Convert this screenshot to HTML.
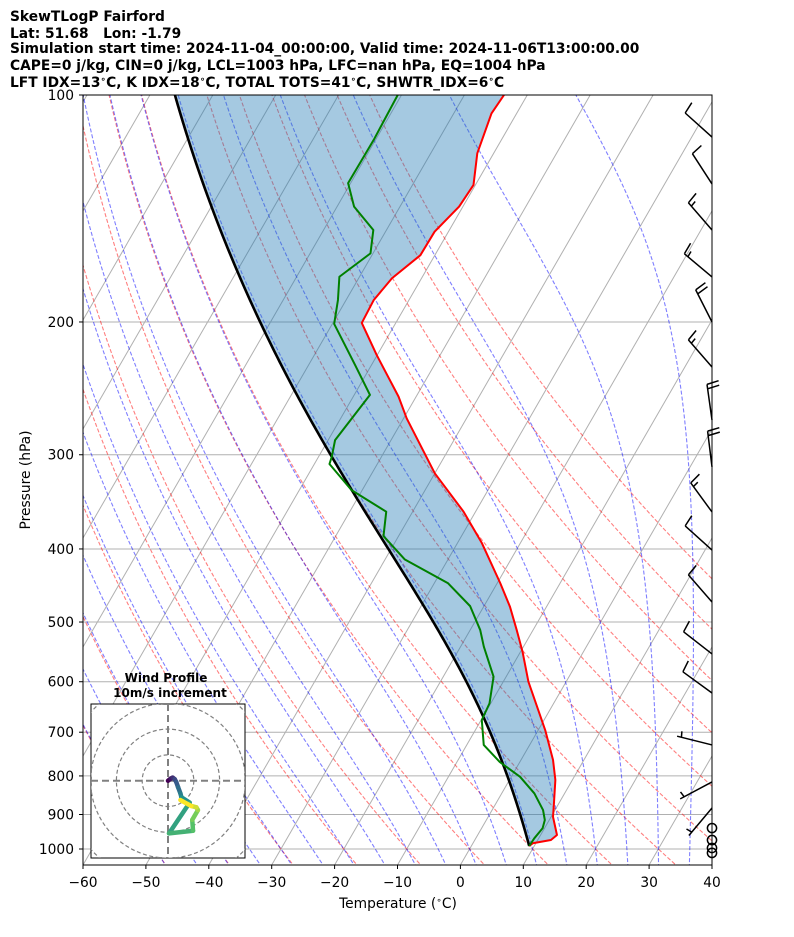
<!DOCTYPE html>
<html><head><meta charset="utf-8"><title>SkewT</title>
<style>
html,body{margin:0;padding:0;background:#fff;}
svg{display:block;font-family:"DejaVu Sans","Liberation Sans",sans-serif;}
.t{font-weight:bold;font-size:13.8px;fill:#000;}
.tick{font-size:13.8px;fill:#000;}
</style></head>
<body>
<svg id="chart" width="794" height="937" viewBox="0 0 794 937" xmlns="http://www.w3.org/2000/svg">
<rect x="0" y="0" width="794" height="937" fill="#fff"/>
<g>
<text class="t" x="10" y="21">SkewTLogP Fairford</text>
<text class="t" x="10" y="38">Lat: 51.68&#160;&#160;&#160;Lon: -1.79</text>
<text class="t" x="10" y="53">Simulation start time: 2024-11-04_00:00:00, Valid time: 2024-11-06T13:00:00.00</text>
<text class="t" x="10" y="70">CAPE=0 j/kg, CIN=0 j/kg, LCL=1003 hPa, LFC=nan hPa, EQ=1004 hPa</text>
<text class="t" x="10" y="87">LFT IDX=13<tspan font-size="9" dy="-5">∘</tspan><tspan dy="5">C, K IDX=18</tspan><tspan font-size="9" dy="-5">∘</tspan><tspan dy="5">C, TOTAL TOTS=41</tspan><tspan font-size="9" dy="-5">∘</tspan><tspan dy="5">C, SHWTR_IDX=6</tspan><tspan font-size="9" dy="-5">∘</tspan><tspan dy="5">C</tspan></text>
</g>
<defs>
<clipPath id="axclip"><rect x="83" y="95" width="629" height="770"/></clipPath>
<clipPath id="hodoclip"><rect x="91" y="704" width="154" height="154"/></clipPath>
</defs>
<g id="plot" clip-path="url(#axclip)"></g>
<rect x="83" y="95" width="629" height="770" fill="none" stroke="#000" stroke-width="1"/>
<g id="axes"></g>
<g id="barbs"></g>
<text x="30" y="480" transform="rotate(-90 30 480)" text-anchor="middle" font-size="13.8">Pressure (hPa)</text>
<text x="398" y="908" text-anchor="middle" font-size="13.8">Temperature (<tspan font-size="9" dy="-5">∘</tspan><tspan dy="5">C)</tspan></text>
<g id="hodo">
<text x="166" y="682" text-anchor="middle" font-size="12" font-weight="bold">Wind Profile</text>
<text x="170" y="697" text-anchor="middle" font-size="12" font-weight="bold">10m/s increment</text>
<rect x="91" y="704" width="154" height="154" fill="#fff" stroke="#000" stroke-width="1"/>
<g id="hodoInner" clip-path="url(#hodoclip)"></g>
</g>
</svg>
<script>
// ---- data ----
const tempP = [100,105.8,119.5,131.6,140.6,151.8,163.1,175,187,200.6,221.2,251.2,268.5,317.5,357,393,444.2,477.3,512.4,547.3,600,695.4,762.1,810,879.1,906.3,958.1,972.9,982.7,990.9];
const tempT = [-63.7,-64.0,-62.6,-60.3,-60.6,-62.2,-62.3,-64.7,-65.6,-65.4,-60.1,-52.8,-49.5,-40.0,-31.9,-26.1,-19.5,-15.8,-12.6,-9.7,-6.0,1.1,5.1,7.3,9.5,10.3,12.6,12.1,9.5,9.2];
const dewP = [100,114.7,130.9,140.6,151,162.2,174.2,187,201.2,228.1,249.9,286.9,301.8,308.6,334.2,357,384.6,412.9,444.2,476.3,512.4,539.1,590.9,641,674.4,727.8,766.6,802.2,843.9,887.9,915.4,938.7,967.9,990.9];
const dewT = [-80.6,-80.3,-80.4,-77.3,-72.1,-70.4,-73.2,-71.3,-69.7,-62.6,-57.5,-58.9,-57.9,-57.6,-51.7,-44.2,-42.4,-36.9,-27.8,-22.2,-18.4,-16.3,-12,-10.2,-9.9,-7.3,-3.2,1.4,5.2,8.1,9.3,9.7,9.3,9.2];
const parcelStartP = 990.9;
const parcelStartT = 9.2;
const xTicks = [-60,-50,-40,-30,-20,-10,0,10,20,30,40];
const pTicks = [100,200,300,400,500,600,700,800,900,1000];
const dryT0 = [-50,-40,-30,-20,-10,0,10,20,30,40,50,60,70,80,90];
const moistT0 = [-50,-45,-40,-35,-30,-25,-20,-15,-10,-5,0,5,10,15,20,25,30,35,40];
const isoT = [-130,-120,-110,-100,-90,-80,-70,-60,-50,-40,-30,-20,-10,0,10,20,30,40];
const barbP = [113.7,131.2,151,174.3,200,229.5,269.8,311.3,357.3,401.3,470.4,551.2,621,727.8,814.9,882.2];
const barbDir = [312,327,319,310,333,319,352,353,324,312,319,308,306,284,242,220];
const barbSpd = [10,10,15,15,20,15,20,20,15,10,10,10,10,5,5,5];
const calmP = [938,973,997,1012];
const hodoU = [0,1.0,1.8,2.6,3.2,3.9,4.8,5.2,8.4,0.4,9.7,9.4,11.6,11,9,4.8];
const hodoV = [0,0.8,1.2,0.6,-0.5,-2.5,-4.9,-6.4,-8.5,-20.4,-19.4,-15.2,-11.4,-10.3,-9.8,-7.5];

// ---- scales ----
const NS="http://www.w3.org/2000/svg";
const SK=0.577;
function xT(T){return 83+(T+60)*6.29;}
function yP(p){return 849+754*Math.log10(p/1000);}
function px(T,p){return xT(T)+SK*(865-yP(p));}
function mk(tag,attrs,parent){const e=document.createElementNS(NS,tag);for(const k in attrs)e.setAttribute(k,attrs[k]);parent.appendChild(e);return e;}
function pts(Ts,Ps){return Ts.map((T,i)=>px(T,Ps[i]).toFixed(2)+","+yP(Ps[i]).toFixed(2)).join(" ");}
const plot=document.getElementById('plot');
const axes=document.getElementById('axes');

const levels=[];for(let p=1060;p>=99;p-=5)levels.push(p);

function dTdp(p,T){
  const es=6.112*Math.exp(17.67*(T-273.15)/(T-29.65));
  const rs=0.622*es/(p-es);
  const Rd=287.04,Cp=1005.7,Lv=2.501e6,eps=0.622;
  return (Rd*T+Lv*rs)/(Cp+Lv*Lv*rs*eps/(Rd*T*T))/p;
}
function moist(T0C,p0,pEnd){
  let T=T0C+273.15,p=p0;const out=[[T0C,p0]];
  const dir=pEnd<p0?-1:1;const h=dir*1;
  while(dir<0?p>pEnd:p<pEnd){
    const k1=dTdp(p,T),k2=dTdp(p+h/2,T+h/2*k1),k3=dTdp(p+h/2,T+h/2*k2),k4=dTdp(p+h,T+h*k3);
    T+=h/6*(k1+2*k2+2*k3+k4);p+=h;
    out.push([T-273.15,p]);
  }
  return out;
}

for(const p of pTicks){
  const y=yP(p);
  const l=mk('line',{x1:83,x2:712,y1:y,y2:y,stroke:'#b0b0b0','stroke-width':1},plot);
  
  
}
for(const T of isoT){
  const l=mk('line',{x1:px(T,1060),y1:yP(1060),x2:px(T,99),y2:yP(99),stroke:'#b0b0b0','stroke-width':1},plot);
  
  
}
for(const t0 of dryT0){
  const Ts=levels.map(p=>(t0+273.15)*Math.pow(p/1000,0.2857)-273.15);
  const l=mk('polyline',{points:pts(Ts,levels),fill:'none',stroke:'red','stroke-opacity':0.5,'stroke-width':1.1,'stroke-dasharray':'4,2'},plot);
  
  
}
for(const t0 of moistT0){
  const up=moist(t0,1000,99),dn=moist(t0,1000,1060);
  const all=dn.reverse().concat(up.slice(1));
  const s=all.filter((d,i)=>i%3===0).map(d=>px(d[0],d[1]).toFixed(2)+","+yP(d[1]).toFixed(2)).join(" ");
  const l=mk('polyline',{points:s,fill:'none',stroke:'blue','stroke-opacity':0.5,'stroke-width':1.1,'stroke-dasharray':'4,2'},plot);
  
  
}
// parcel (surface -> top)
const parcel=moist(parcelStartT,parcelStartP,100).filter((d,i,a)=>i%3===0||i===a.length-1);
const parcelPts=parcel.map(d=>px(d[0],d[1]).toFixed(2)+","+yP(d[1]).toFixed(2));
// temperature (top -> surface) then parcel (surface -> top)
const tempPts=tempT.map((T,i)=>px(T,tempP[i]).toFixed(2)+","+yP(tempP[i]).toFixed(2));
const fillPoly=mk('polygon',{points:tempPts.join(" ")+" "+parcelPts.join(" "),fill:'#1f77b4','fill-opacity':0.4,stroke:'none'},plot);


const parcelLine=mk('polyline',{points:parcelPts.join(" "),fill:'none',stroke:'#000','stroke-width':2.6},plot);


const tLine=mk('polyline',{points:pts(tempT,tempP),fill:'none',stroke:'red','stroke-width':2,'stroke-linejoin':'round'},plot);


const dLine=mk('polyline',{points:pts(dewT,dewP),fill:'none',stroke:'green','stroke-width':2,'stroke-linejoin':'round'},plot);



for(const T of xTicks){
  const x=xT(T);
  const tk=mk('line',{x1:x,x2:x,y1:865,y2:869,stroke:'#000','stroke-width':1},axes);
  
  
  const tx=mk('text',{x:x,y:887,'text-anchor':'middle',class:'tick'},axes);
  tx.textContent=(T<0?'\u2212'+(-T):String(T));
  
  
}
for(const p of pTicks){
  const y=yP(p);
  const tk=mk('line',{x1:79,x2:83,y1:y,y2:y,stroke:'#000','stroke-width':1},axes);
  
  
  const tx=mk('text',{x:74,y:y+5,'text-anchor':'end',class:'tick'},axes);
  tx.textContent=String(p);
  
  
}

const bg=document.getElementById('barbs');
barbP.forEach((p,i)=>{
  const bx=712,by=yP(p),L=36;
  const a=barbDir[i]*Math.PI/180;
  const ux=Math.sin(a),uy=-Math.cos(a);
  const tx=bx+ux*L,ty=by+uy*L;
  const nx=-uy,ny=ux;
  let d=`M${bx},${by}L${tx.toFixed(1)},${ty.toFixed(1)}`;
  let s=barbSpd[i],off=0;
  while(s>=10){
    const sx=tx-ux*off,sy=ty-uy*off;
    d+=`M${sx.toFixed(1)},${sy.toFixed(1)}L${(sx+nx*12+ux*2).toFixed(1)},${(sy+ny*12+uy*2).toFixed(1)}`;
    s-=10;off+=4.5;
  }
  if(s>=5){
    if(off===0)off=4.5;
    const sx=tx-ux*off,sy=ty-uy*off;
    d+=`M${sx.toFixed(1)},${sy.toFixed(1)}L${(sx+nx*6+ux*1).toFixed(1)},${(sy+ny*6+uy*1).toFixed(1)}`;
  }
  const b=mk('path',{d:d,fill:'none',stroke:'#000','stroke-width':1.5},bg);
  
  
});
calmP.forEach(p=>{
  const c=mk('circle',{cx:712,cy:yP(p),r:4.6,fill:'none',stroke:'#000','stroke-width':1.5},bg);
  
  
});

const hi=document.getElementById('hodoInner');
const hcx=168,hcy=780.7,hs=2.58;
for(const r of [1,2,3,4]){
  const c=mk('circle',{cx:hcx,cy:hcy,r:r*10*hs,fill:'none',stroke:'#808080','stroke-width':1.2,'stroke-dasharray':'4,2.5'},hi);
  
  
}
const hl1=mk('line',{x1:hcx,x2:hcx,y1:704,y2:858,stroke:'#808080','stroke-width':2,'stroke-dasharray':'7,4'},hi);


const hl2=mk('line',{x1:91,x2:245,y1:hcy,y2:hcy,stroke:'#808080','stroke-width':2,'stroke-dasharray':'7,4'},hi);


const vir=[[68,1,84],[59,82,139],[33,145,140],[94,201,98],[253,231,37]];
function vcol(t){const s=t*(vir.length-1);const i=Math.min(Math.floor(s),vir.length-2);const f=s-i;const c=vir[i].map((v,k)=>Math.round(v+(vir[i+1][k]-v)*f));return `rgb(${c[0]},${c[1]},${c[2]})`;}
for(let i=0;i<hodoU.length-1;i++){
  const seg=mk('line',{x1:hcx+hodoU[i]*hs,y1:hcy-hodoV[i]*hs,x2:hcx+hodoU[i+1]*hs,y2:hcy-hodoV[i+1]*hs,stroke:vcol(i/(hodoU.length-2)),'stroke-width':4.5,'stroke-linecap':'round'},hi);
  
  
}
</script>
</body></html>
